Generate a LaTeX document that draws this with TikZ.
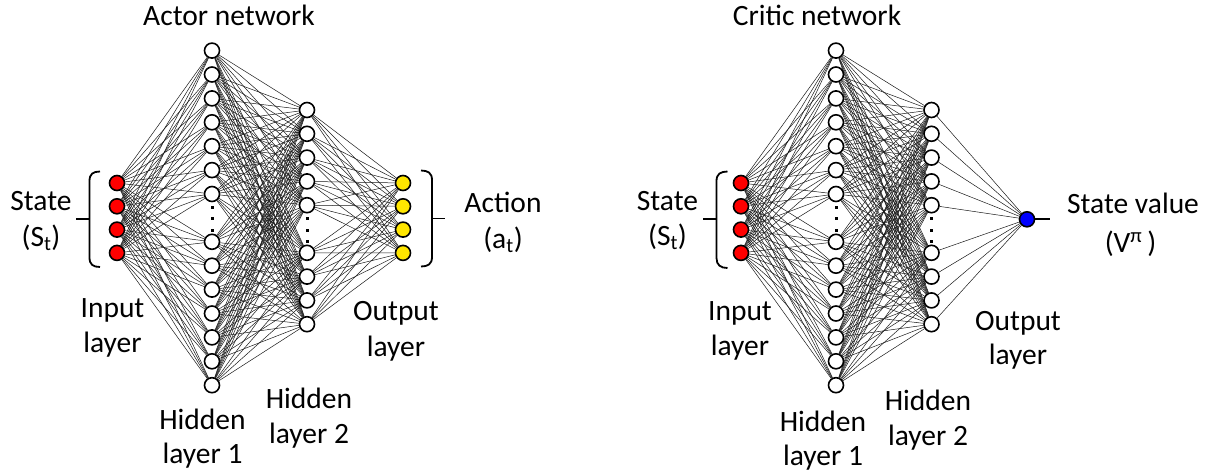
\documentclass[tikz,border=0pt]{standalone}
\usepackage{fontspec}
\setmainfont{Carlito}
\definecolor{nred}{RGB}{255,0,0}
\definecolor{nyellow}{RGB}{255,230,0}
\definecolor{nblue}{RGB}{0,0,255}
\pgfdeclarelayer{bg}
\pgfsetlayers{bg,main}
\begin{document}
\begin{tikzpicture}[x=1pt,y=-1pt,
  neuron/.style={circle,draw=black,line width=1.6pt,fill=white,minimum size=15pt,inner sep=0pt},
  innode/.style={neuron,fill=nred},
  outnode/.style={neuron,fill=nyellow},
  valnode/.style={neuron,fill=nblue},
  wire/.style={line width=0.5pt,draw=black!90},
  lbl/.style={font=\fontsize{29.5}{35}\selectfont,anchor=base,inner sep=0pt},
  brk/.style={line width=1.8pt},
  vdot/.style={rectangle,fill=black,inner sep=0pt,minimum size=3pt}]
\useasboundingbox (0,0) rectangle (1216,475);

% ---------------- Actor network ----------------
\foreach \i in {1,...,4} \node[innode] (a-in-\i) at (117,{183+23.3*(\i-1)}) {};
\foreach \j in {1,...,14} {\pgfmathsetmacro\k{\j<=7 ? \j-1 : \j}
  \node[neuron] (a-h1-\j) at (212,{50.6+23.9*\k}) {};}
\foreach \j in {1,...,9} {\pgfmathsetmacro\k{\j<=5 ? \j-1 : \j}
  \node[neuron] (a-h2-\j) at (307,{110+23.8*\k}) {};}
\foreach \i in {1,...,4} \node[outnode] (a-out-\i) at (403,{183+23.3*(\i-1)}) {};
\foreach \y [count=\n] in {207,218.5,230} \node[vdot] (a-d1-\n) at (212,\y) {};
\foreach \y [count=\n] in {218,230,241.5} \node[vdot] (a-d2-\n) at (307,\y) {};

% ---------------- Critic network ----------------
\foreach \i in {1,...,4} \node[innode] (c-in-\i) at (741,{183+23.3*(\i-1)}) {};
\foreach \j in {1,...,14} {\pgfmathsetmacro\k{\j<=7 ? \j-1 : \j}
  \node[neuron] (c-h1-\j) at (836,{50.6+23.9*\k}) {};}
\foreach \j in {1,...,9} {\pgfmathsetmacro\k{\j<=5 ? \j-1 : \j}
  \node[neuron] (c-h2-\j) at (931.5,{110+23.8*\k}) {};}
\node[valnode] (c-out) at (1027,219.3) {};
\coordinate (c-tip) at (1050,219.3);
\foreach \y [count=\n] in {207,218.5,230} \node[vdot] (c-d1-\n) at (836,\y) {};
\foreach \y [count=\n] in {218,230,241.5} \node[vdot] (c-d2-\n) at (931.5,\y) {};

\begin{pgfonlayer}{bg}
\foreach \i in {1,...,4} \foreach \j in {1,...,14} \draw[wire] (a-in-\i) -- (a-h1-\j);
\foreach \i in {1,...,14} \foreach \j in {1,...,9} \draw[wire] (a-h1-\i) -- (a-h2-\j);
\foreach \i in {1,...,9} \foreach \j in {1,...,4} \draw[wire] (a-h2-\i) -- (a-out-\j);
\foreach \i in {1,...,4} \foreach \j in {1,...,14} \draw[wire] (c-in-\i) -- (c-h1-\j);
\foreach \i in {1,...,14} \foreach \j in {1,...,9} \draw[wire] (c-h1-\i) -- (c-h2-\j);
\foreach \i in {1,...,9} \draw[wire] (c-h2-\i) -- (c-out);
\end{pgfonlayer}
\draw[brk] (c-out) -- (c-tip);

% brackets
\draw[brk] (100,171.5) .. controls (93,171.5) and (89.5,174) .. (89.5,181) -- (89.5,257.5) .. controls (89.5,264.5) and (93,267) .. (100,267);
\draw[brk] (76,219.3) -- (89.5,219.3);
\draw[brk] (421,170.5) .. controls (428,170.5) and (432,173) .. (432,180) -- (432,257) .. controls (432,264) and (428,266.5) .. (421,266.5);
\draw[brk] (432,218.5) -- (445,218.5);
\draw[brk] (727.5,171.5) .. controls (720.5,171.5) and (716.5,174) .. (716.5,181) -- (716.5,258) .. controls (716.5,265) and (720.5,268) .. (727.5,268);
\draw[brk] (703,219.3) -- (716.5,219.3);

% labels actor
\node[lbl] (a-title) at (229,25) {Actor network};
\node[lbl] (a-st1) at (41,210) {State};
\node[lbl] (a-st2) at (41,246) {(S\textsubscript{t})};
\node[lbl] (a-ac1) at (503,212) {Action};
\node[lbl] (a-ac2) at (503,248) {(a\textsubscript{t})};
\node[lbl] (a-il1) at (112.5,317) {Input};
\node[lbl] (a-il2) at (112.5,352) {layer};
\node[lbl] (a-h1l1) at (202.5,429) {Hidden};
\node[lbl] (a-h1l2) at (202.5,463) {layer 1};
\node[lbl] (a-h2l1) at (309,408) {Hidden};
\node[lbl] (a-h2l2) at (309,443) {layer 2};
\node[lbl] (a-ol1) at (396,320) {Output};
\node[lbl] (a-ol2) at (396,356) {layer};

% labels critic
\node[lbl] (c-title) at (817,25) {Critic network};
\node[lbl] (c-st1) at (667.5,210) {State};
\node[lbl] (c-st2) at (667.5,245) {(S\textsubscript{t})};
\node[lbl] (c-il1) at (740,320) {Input};
\node[lbl] (c-il2) at (740,355) {layer};
\node[lbl] (c-h1l1) at (823,431) {Hidden};
\node[lbl] (c-h1l2) at (823,465) {layer 1};
\node[lbl] (c-h2l1) at (928,410) {Hidden};
\node[lbl] (c-h2l2) at (928,445) {layer 2};
\node[lbl] (c-ol1) at (1018,330) {Output};
\node[lbl] (c-ol2) at (1018,364) {layer};
\node[lbl] (c-sv1) at (1133,213) {State value};
\node[lbl] (c-sv2) at (1130.5,252) {(V\textsuperscript{π}\,)};
\end{tikzpicture}
\end{document}
